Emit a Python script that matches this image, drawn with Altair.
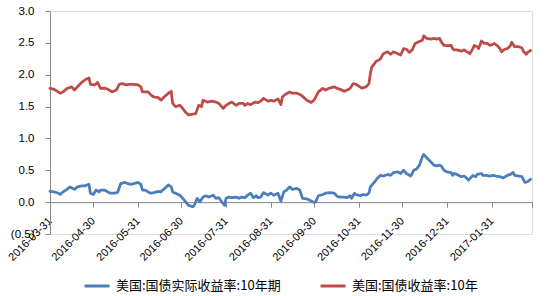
import altair as alt
import pandas as pd

# ---- data ----
nominal_dates = [
    "2016-03-31", "2016-04-03", "2016-04-07", "2016-04-09", "2016-04-12", "2016-04-15", "2016-04-17", "2016-04-19",
    "2016-04-22", "2016-04-25", "2016-04-27", "2016-04-28", "2016-05-01", "2016-05-03", "2016-05-05", "2016-05-08",
    "2016-05-11", "2016-05-13", "2016-05-16", "2016-05-18", "2016-05-20", "2016-05-23", "2016-05-25", "2016-05-28",
    "2016-05-31", "2016-06-02", "2016-06-03", "2016-06-07", "2016-06-09", "2016-06-11", "2016-06-14", "2016-06-16",
    "2016-06-18", "2016-06-21", "2016-06-23", "2016-06-24", "2016-06-26", "2016-06-29", "2016-07-01", "2016-07-03",
    "2016-07-05", "2016-07-08", "2016-07-10", "2016-07-12", "2016-07-14", "2016-07-15", "2016-07-18", "2016-07-21",
    "2016-07-24", "2016-07-26", "2016-07-29", "2016-07-31", "2016-08-02", "2016-08-04", "2016-08-07", "2016-08-09",
    "2016-08-12", "2016-08-13", "2016-08-15", "2016-08-17", "2016-08-20", "2016-08-22", "2016-08-24", "2016-08-26",
    "2016-08-29", "2016-08-31", "2016-09-02", "2016-09-05", "2016-09-07", "2016-09-08", "2016-09-10", "2016-09-13",
    "2016-09-15", "2016-09-18", "2016-09-21", "2016-09-23", "2016-09-25", "2016-09-28", "2016-09-30", "2016-10-03",
    "2016-10-06", "2016-10-08", "2016-10-10", "2016-10-14", "2016-10-16", "2016-10-18", "2016-10-21", "2016-10-23",
    "2016-10-25", "2016-10-27", "2016-10-29", "2016-10-31", "2016-11-02", "2016-11-05", "2016-11-07", "2016-11-08",
    "2016-11-09", "2016-11-12", "2016-11-14", "2016-11-15", "2016-11-17", "2016-11-20", "2016-11-22", "2016-11-24",
    "2016-11-27", "2016-11-29", "2016-12-01", "2016-12-03", "2016-12-05", "2016-12-07", "2016-12-09", "2016-12-12",
    "2016-12-14", "2016-12-15", "2016-12-17", "2016-12-20", "2016-12-22", "2016-12-24", "2016-12-26", "2016-12-27",
    "2016-12-29", "2016-12-31", "2017-01-03", "2017-01-04", "2017-01-05", "2017-01-07", "2017-01-10", "2017-01-12",
    "2017-01-14", "2017-01-16", "2017-01-18", "2017-01-19", "2017-01-21", "2017-01-22", "2017-01-24", "2017-01-26",
    "2017-01-28", "2017-01-30", "2017-02-02", "2017-02-04", "2017-02-06", "2017-02-07", "2017-02-09", "2017-02-11",
    "2017-02-13", "2017-02-14", "2017-02-16", "2017-02-19", "2017-02-21", "2017-02-22", "2017-02-24", "2017-02-25",
    "2017-02-27",
]
nominal_values = [
    1.785, 1.77, 1.71, 1.73, 1.785, 1.81, 1.76, 1.81,
    1.88, 1.93, 1.95, 1.85, 1.84, 1.88, 1.785, 1.79,
    1.76, 1.73, 1.76, 1.85, 1.86, 1.84, 1.85, 1.85,
    1.84, 1.81, 1.73, 1.73, 1.68, 1.65, 1.64, 1.60,
    1.65, 1.71, 1.74, 1.55, 1.50, 1.52, 1.47, 1.41,
    1.37, 1.38, 1.39, 1.52, 1.50, 1.60, 1.57, 1.585,
    1.57, 1.55, 1.47, 1.52, 1.55, 1.57, 1.52, 1.55,
    1.55, 1.52, 1.55, 1.53, 1.57, 1.56, 1.585, 1.63,
    1.585, 1.60, 1.585, 1.62, 1.53, 1.65, 1.69, 1.73,
    1.71, 1.71, 1.68, 1.64, 1.60, 1.565, 1.60, 1.73,
    1.785, 1.76, 1.785, 1.81, 1.785, 1.77, 1.74, 1.76,
    1.785, 1.86, 1.85, 1.82, 1.79, 1.81, 1.86, 2.02,
    2.12, 2.21, 2.23, 2.25, 2.33, 2.36, 2.32, 2.36,
    2.33, 2.31, 2.41, 2.40, 2.35, 2.39, 2.49, 2.52,
    2.54, 2.61, 2.57, 2.56, 2.57, 2.56, 2.57, 2.52,
    2.46, 2.455, 2.46, 2.41, 2.39, 2.39, 2.37, 2.39,
    2.36, 2.33, 2.41, 2.46, 2.44, 2.41, 2.53, 2.49,
    2.49, 2.46, 2.49, 2.455, 2.40, 2.36, 2.40, 2.41,
    2.455, 2.51, 2.44, 2.44, 2.42, 2.37, 2.32, 2.35,
    2.38,
]

real_dates = [
    "2016-03-31", "2016-04-03", "2016-04-06", "2016-04-07", "2016-04-09", "2016-04-11", "2016-04-14", "2016-04-15",
    "2016-04-17", "2016-04-19", "2016-04-22", "2016-04-24", "2016-04-27", "2016-04-28", "2016-04-30", "2016-05-02",
    "2016-05-04", "2016-05-05", "2016-05-08", "2016-05-10", "2016-05-12", "2016-05-15", "2016-05-17", "2016-05-19",
    "2016-05-22", "2016-05-24", "2016-05-26", "2016-05-28", "2016-05-31", "2016-06-02", "2016-06-03", "2016-06-05",
    "2016-06-07", "2016-06-09", "2016-06-11", "2016-06-14", "2016-06-16", "2016-06-17", "2016-06-19", "2016-06-21",
    "2016-06-23", "2016-06-24", "2016-06-26", "2016-06-29", "2016-07-01", "2016-07-03", "2016-07-05", "2016-07-08",
    "2016-07-09", "2016-07-11", "2016-07-13", "2016-07-15", "2016-07-17", "2016-07-19", "2016-07-22", "2016-07-24",
    "2016-07-26", "2016-07-28", "2016-07-30", "2016-07-31", "2016-08-02", "2016-08-04", "2016-08-07", "2016-08-09",
    "2016-08-11", "2016-08-13", "2016-08-15", "2016-08-17", "2016-08-19", "2016-08-21", "2016-08-22", "2016-08-24",
    "2016-08-26", "2016-08-29", "2016-08-31", "2016-09-02", "2016-09-05", "2016-09-07", "2016-09-09", "2016-09-11",
    "2016-09-13", "2016-09-15", "2016-09-18", "2016-09-20", "2016-09-22", "2016-09-25", "2016-09-27", "2016-09-29",
    "2016-10-01", "2016-10-03", "2016-10-06", "2016-10-08", "2016-10-11", "2016-10-14", "2016-10-16", "2016-10-18",
    "2016-10-21", "2016-10-23", "2016-10-25", "2016-10-26", "2016-10-28", "2016-10-29", "2016-11-01", "2016-11-03",
    "2016-11-05", "2016-11-07", "2016-11-08", "2016-11-11", "2016-11-13", "2016-11-15", "2016-11-17", "2016-11-20",
    "2016-11-22", "2016-11-24", "2016-11-27", "2016-11-29", "2016-11-30", "2016-12-01", "2016-12-03", "2016-12-06",
    "2016-12-08", "2016-12-10", "2016-12-12", "2016-12-14", "2016-12-15", "2016-12-17", "2016-12-20", "2016-12-22",
    "2016-12-24", "2016-12-26", "2016-12-27", "2016-12-29", "2016-12-31", "2017-01-03", "2017-01-04", "2017-01-05",
    "2017-01-07", "2017-01-10", "2017-01-12", "2017-01-14", "2017-01-15", "2017-01-18", "2017-01-20", "2017-01-21",
    "2017-01-24", "2017-01-25", "2017-01-27", "2017-01-30", "2017-02-01", "2017-02-03", "2017-02-06", "2017-02-08",
    "2017-02-11", "2017-02-13", "2017-02-15", "2017-02-16", "2017-02-19", "2017-02-21", "2017-02-22", "2017-02-23",
    "2017-02-25", "2017-02-27",
]
real_values = [
    0.17, 0.16, 0.14, 0.12, 0.16, 0.19, 0.24, 0.225,
    0.20, 0.24, 0.255, 0.255, 0.28, 0.14, 0.12, 0.19,
    0.16, 0.19, 0.19, 0.16, 0.14, 0.14, 0.16, 0.29,
    0.31, 0.29, 0.28, 0.29, 0.31, 0.28, 0.19, 0.19,
    0.16, 0.14, 0.15, 0.17, 0.16, 0.19, 0.225, 0.27,
    0.24, 0.16, 0.14, 0.11, 0.06, 0.005, -0.05, -0.07,
    -0.05, 0.06, 0.005, 0.08, 0.10, 0.08, 0.11, 0.06,
    0.07, 0.005, -0.05, 0.06, 0.08, 0.07, 0.08, 0.06,
    0.08, 0.07, 0.11, 0.14, 0.07, 0.10, 0.07, 0.08,
    0.15, 0.11, 0.14, 0.11, 0.14, 0.015, 0.16, 0.19,
    0.24, 0.20, 0.215, 0.19, 0.06, 0.05, 0.03, 0.005,
    0.00, 0.10, 0.12, 0.14, 0.15, 0.14, 0.09, 0.08,
    0.08, 0.07, 0.10, 0.06, 0.14, 0.12, 0.10, 0.12,
    0.11, 0.14, 0.24, 0.32, 0.38, 0.42, 0.41, 0.435,
    0.42, 0.465, 0.475, 0.45, 0.475, 0.50, 0.45, 0.41,
    0.50, 0.52, 0.58, 0.71, 0.75, 0.695, 0.63, 0.58,
    0.57, 0.58, 0.57, 0.50, 0.475, 0.465, 0.42, 0.45,
    0.435, 0.40, 0.41, 0.37, 0.345, 0.42, 0.40, 0.435,
    0.45, 0.42, 0.42, 0.41, 0.42, 0.41, 0.40, 0.38,
    0.42, 0.435, 0.465, 0.42, 0.41, 0.40, 0.36, 0.31,
    0.32, 0.36,
]

series_names = ["美国:国债实际收益率:10年期", "美国:国债收益率:10年"]
series_colors = ["#4A7EBB", "#BE4B48"]
y_ticks = [-0.5, 0.0, 0.5, 1.0, 1.5, 2.0, 2.5, 3.0]
x_tick_dates = [
    "2016-03-31", "2016-04-30", "2016-05-31", "2016-06-30", "2016-07-31", "2016-08-31",
    "2016-09-30", "2016-10-31", "2016-11-30", "2016-12-31", "2017-01-31", "2017-02-28",
]

# ---- build table ----
df = pd.concat([
    pd.DataFrame({"date": real_dates, "value": real_values, "series": series_names[0]}),
    pd.DataFrame({"date": nominal_dates, "value": nominal_values, "series": series_names[1]}),
], ignore_index=True)

tick_ms = [int(pd.Timestamp(d, tz="UTC").value // 10**6) for d in x_tick_dates]

W, H = 482, 223
y_min, y_max = y_ticks[0], y_ticks[-1]
zero_offset = -H * (0 - y_min) / (y_max - y_min)

axis_color = "#868686"
num_font = "Liberation Sans"

y_label_expr = "datum.value < 0 ? '(' + format(-datum.value, '.1f') + ')' : format(datum.value, '.1f')"
x_label_expr = f"datum.value >= {tick_ms[-1]} ? '' : utcFormat(datum.value, '%Y-%m-%d')"

chart = alt.Chart(df).mark_line(strokeWidth=2.75, strokeJoin="round", strokeCap="round").encode(
    x=alt.X(
        "date:T",
        scale=alt.Scale(type="utc", domain=[tick_ms[0], tick_ms[-1]], nice=False),
        axis=alt.Axis(
            title=None, values=tick_ms, labelExpr=x_label_expr, grid=False,
            offset=zero_offset, labelAngle=-45, labelAlign="right", labelBaseline="middle",
            labelPadding=12, tickSize=5, tickColor=axis_color, domainColor=axis_color,
            labelFont=num_font, labelFontSize=11, labelColor="#000000",
            labelOverlap=False, labelFlush=False, labelBound=False,
        ),
    ),
    y=alt.Y(
        "value:Q",
        scale=alt.Scale(domain=[y_min, y_max], nice=False, zero=False),
        axis=alt.Axis(
            title=None, values=y_ticks, labelExpr=y_label_expr, grid=False,
            tickSize=5, tickColor=axis_color, domainColor=axis_color, labelPadding=11,
            labelFont=num_font, labelFontSize=11.5, labelColor="#000000",
            labelOverlap=False, labelFlush=False,
        ),
    ),
    color=alt.Color(
        "series:N",
        scale=alt.Scale(domain=series_names, range=series_colors),
        legend=alt.Legend(
            title=None, orient="none", legendX=33, legendY=261, direction="horizontal",
            symbolType="stroke", symbolStrokeWidth=3, symbolSize=625,
            labelFont="Noto Sans CJK SC", labelFontSize=13, labelColor="#000000",
            labelOffset=5, columnPadding=33, labelLimit=400,
        ),
    ),
    order=alt.Order("date:T"),
).properties(
    width=W, height=H,
    padding={"left": 50, "top": 11, "right": 550 - 50 - W, "bottom": 296 - 11 - H},
    autosize=alt.AutoSizeParams(type="none"),
).configure_view(stroke=None).configure(background="#ffffff")

chart.save("out.html", embed_options={"renderer": "svg", "actions": False})
